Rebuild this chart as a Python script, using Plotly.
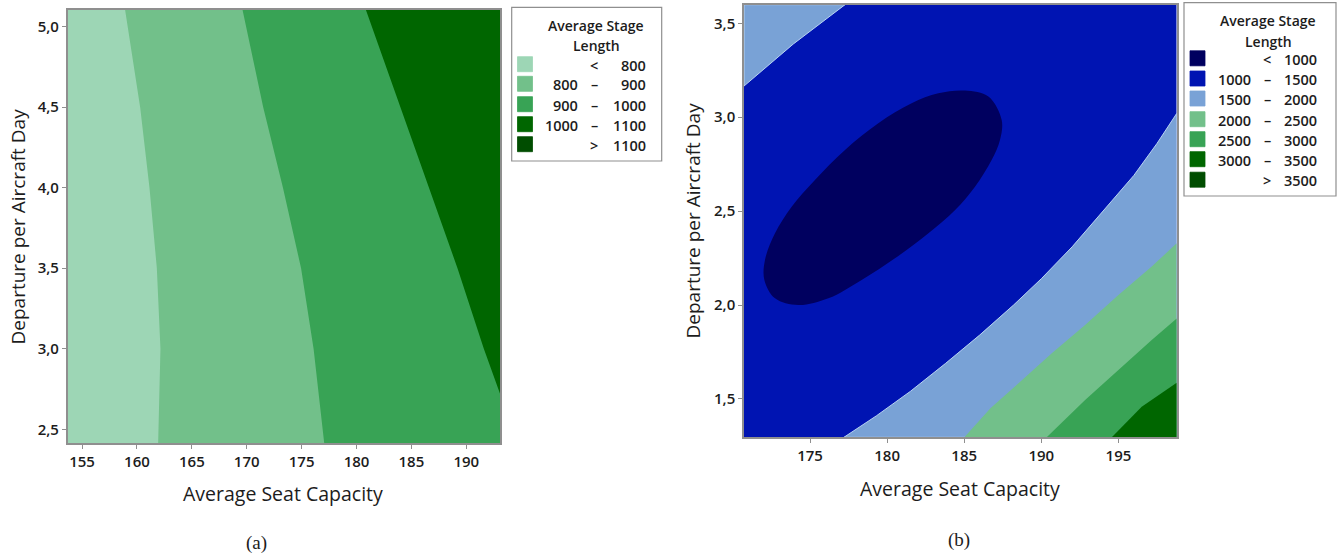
import plotly.graph_objects as go

W, H = 1338, 558

# ---------------- data ----------------
# Panel (a): Average Seat Capacity vs Departure per Aircraft Day
A_XRANGE = [153.69, 193.1]
A_YRANGE = [2.413, 5.103]
A_XTICKS = [155, 160, 165, 170, 175, 180, 185, 190]
A_XTICKTEXT = ["155", "160", "165", "170", "175", "180", "185", "190"]
A_YTICKS = [2.5, 3.0, 3.5, 4.0, 4.5, 5.0]
A_YTICKTEXT = ["2,5", "3,0", "3,5", "4,0", "4,5", "5,0"]

# contour boundaries (x at given y)
A_B800_X = [158.92, 160.29, 161.14, 161.81, 162.14, 161.99, 161.93]
A_B800_Y = [5.103, 4.5, 4.0, 3.5, 3.0, 2.5, 2.413]
A_B900_X = [169.62, 171.5, 173.3, 174.95, 176.09, 176.94, 177.06]
A_B900_Y = [5.103, 4.5, 4.0, 3.5, 3.0, 2.5, 2.413]
A_B1000_X = [180.86, 184.0, 186.6, 189.2, 191.6, 193.1]
A_B1000_Y = [5.103, 4.5, 4.0, 3.5, 3.0, 2.716]

A_LEVELS = ["<  800", "800 – 900", "900 – 1000", "1000 – 1100", ">  1100"]
A_COLORS = ["#9dd6b5", "#72c08a", "#38a355", "#006600", "#004d00"]

# Panel (b)
B_XRANGE = [170.72, 198.78]
B_YRANGE = [1.296, 3.599]
B_XTICKS = [175, 180, 185, 190, 195]
B_XTICKTEXT = ["175", "180", "185", "190", "195"]
B_YTICKS = [1.5, 2.0, 2.5, 3.0, 3.5]
B_YTICKTEXT = ["1,5", "2,0", "2,5", "3,0", "3,5"]

B_TL1500_X = [170.72, 173.92, 177.27]
B_TL1500_Y = [3.166, 3.39, 3.599]

B_E1000_X = [185.05, 186.57, 187.43, 187.32, 186.78, 185.70, 184.41, 182.68, 180.51, 178.35,
             176.19, 174.24, 172.73, 172.04, 172.08, 172.73, 173.81, 175.32, 177.27, 179.43,
             181.59, 183.32]
B_E1000_Y = [3.142, 3.110, 2.985, 2.879, 2.772, 2.630, 2.506, 2.382, 2.249, 2.134,
             2.036, 2.000, 2.036, 2.134, 2.240, 2.382, 2.524, 2.666, 2.826, 2.968,
             3.074, 3.127]

B_B1500_X = [198.78, 197.5, 196.0, 194.0, 192.0, 190.0, 188.2, 186.0, 183.8, 181.5, 179.3, 177.2]
B_B1500_Y = [3.02, 2.86, 2.69, 2.50, 2.31, 2.14, 2.00, 1.84, 1.69, 1.54, 1.41, 1.296]
B_B2000_X = [198.78, 197.16, 195.00, 192.84, 190.68, 188.51, 186.70, 185.01]
B_B2000_Y = [2.329, 2.205, 2.054, 1.894, 1.743, 1.583, 1.450, 1.296]
B_B2500_X = [198.78, 197.16, 195.00, 192.84, 190.35]
B_B2500_Y = [1.929, 1.814, 1.654, 1.495, 1.296]
B_B3000_X = [198.78, 196.51, 194.57]
B_B3000_Y = [1.587, 1.459, 1.296]

B_LEVELS = ["<  1000", "1000 – 1500", "1500 – 2000", "2000 – 2500", "2500 – 3000", "3000 – 3500", ">  3500"]
B_COLORS = ["#00005f", "#0014b2", "#79a2d6", "#72c08a", "#38a355", "#006600", "#004d00"]

LEGEND_TITLE = ["Average Stage", "Length"]
X_TITLE = "Average Seat Capacity"
Y_TITLE = "Departure per Aircraft Day"
CAPTIONS = ["(a)", "(b)"]

FONT = "Open Sans"

# ---------------- helpers ----------------
def px(x):
    return x / W


def py(y):
    return 1 - y / H


fig = go.Figure()


def poly(xs, ys, color, xa, ya, shape="linear", lcolor=None):
    fig.add_trace(go.Scatter(
        x=list(xs) + [xs[0]], y=list(ys) + [ys[0]], mode="lines", fill="toself",
        fillcolor=color,
        line=dict(width=1 if lcolor else 0, color=lcolor or color, shape=shape, smoothing=1.0),
        xaxis=xa, yaxis=ya, hoverinfo="skip", showlegend=False))


# panel (a)
ax0, ax1 = A_XRANGE
ay0, ay1 = A_YRANGE
poly([ax0, ax1, ax1, ax0], [ay0, ay0, ay1, ay1], A_COLORS[0], "x", "y")
poly(A_B800_X + [ax1, ax1], A_B800_Y + [ay0, ay1], A_COLORS[1], "x", "y")
poly(A_B900_X + [ax1, ax1], A_B900_Y + [ay0, ay1], A_COLORS[2], "x", "y")
poly(A_B1000_X + [ax1], A_B1000_Y + [ay1], A_COLORS[3], "x", "y")

# panel (b)
bx0, bx1 = B_XRANGE
by0, by1 = B_YRANGE
poly([bx0, bx1, bx1, bx0], [by0, by0, by1, by1], B_COLORS[1], "x2", "y2")
poly(B_TL1500_X + [bx0], B_TL1500_Y + [by1], B_COLORS[2], "x2", "y2", lcolor="#b8d3f2")
poly(B_E1000_X, B_E1000_Y, B_COLORS[0], "x2", "y2", shape="spline")
poly(B_B1500_X + [bx1], B_B1500_Y + [by0], B_COLORS[2], "x2", "y2", lcolor="#b8d3f2")
poly(B_B2000_X + [bx1], B_B2000_Y + [by0], B_COLORS[3], "x2", "y2")
poly(B_B2500_X + [bx1], B_B2500_Y + [by0], B_COLORS[4], "x2", "y2")
poly(B_B3000_X + [bx1], B_B3000_Y + [by0], B_COLORS[5], "x2", "y2")

axis_common = dict(
    showline=True, mirror=True, linecolor="#8f8f8f", linewidth=1.5,
    ticks="outside", ticklen=4, tickcolor="#8f8f8f", tickwidth=1,
    showgrid=False, zeroline=False, fixedrange=True,
    tickfont=dict(family=FONT, size=15, color="#1c1c1c", weight=600),
)

fig.update_layout(
    width=W, height=H,
    margin=dict(l=0, r=0, t=0, b=0),
    paper_bgcolor="white", plot_bgcolor="white",
    showlegend=False,
    xaxis=dict(domain=[px(67.7), px(500.3)], range=A_XRANGE, anchor="y",
               tickvals=A_XTICKS, ticktext=A_XTICKTEXT, **axis_common),
    yaxis=dict(domain=[py(443.3), py(10)], range=A_YRANGE, anchor="x",
               tickvals=A_YTICKS, ticktext=A_YTICKTEXT, **axis_common),
    xaxis2=dict(domain=[px(744), px(1176.7)], range=B_XRANGE, anchor="y2",
                tickvals=B_XTICKS, ticktext=B_XTICKTEXT, **axis_common),
    yaxis2=dict(domain=[py(437.3), py(4.7)], range=B_YRANGE, anchor="x2",
                tickvals=B_YTICKS, ticktext=B_YTICKTEXT, **axis_common),
)

ann = []
shapes = []


def text(x, y, s, size=14.5, anchor="center", weight=400, family=FONT, angle=0, color="#1c1c1c"):
    ann.append(dict(x=px(x), y=py(y), xref="paper", yref="paper", text=s, showarrow=False,
                    xanchor=anchor, yanchor="middle", textangle=angle,
                    font=dict(family=family, size=size, color=color, weight=weight)))


# axis titles
text(283, 493, X_TITLE, size=19.5)
text(960, 488, X_TITLE, size=19.5)
text(17.5, 227, Y_TITLE, size=19)
ann[-1]["textangle"] = -90
text(692.5, 221, Y_TITLE, size=19)
ann[-1]["textangle"] = -90

# captions
text(256.5, 543, CAPTIONS[0], size=19, family="Liberation Serif")
text(959, 540, CAPTIONS[1], size=19, family="Liberation Serif")


def legend(box, title_x, title_ys, sq_x, rows_y, labels, colors, lnum_r, dash_c, rnum_r):
    x0, y0, x1, y1 = box
    shapes.append(dict(type="rect", xref="paper", yref="paper", x0=px(x0), x1=px(x1),
                       y0=py(y1), y1=py(y0), line=dict(color="#8f8f8f", width=1.2),
                       fillcolor="white", layer="above"))
    text(title_x, title_ys[0], LEGEND_TITLE[0], size=14, weight=600)
    text(title_x, title_ys[1], LEGEND_TITLE[1], size=14, weight=600)
    for lab, col, ry in zip(labels, colors, rows_y):
        shapes.append(dict(type="rect", xref="paper", yref="paper",
                           x0=px(sq_x), x1=px(sq_x + 15), y0=py(ry + 7.5), y1=py(ry - 7.5),
                           line=dict(color=col, width=0.8), fillcolor=col, layer="above"))
        if "–" in lab:
            lo, hi = [t.strip() for t in lab.split("–")]
            text(lnum_r, ry + 1, lo, anchor="right", weight=600)
            text(dash_c, ry + 1, "–", anchor="center", weight=600)
            text(rnum_r, ry + 1, hi, anchor="right", weight=600)
        else:
            sym, val = lab.split()
            text(dash_c, ry + 1, sym, anchor="center", weight=600)
            text(rnum_r, ry + 1, val, anchor="right", weight=600)


legend((511.7, 7.3, 661.7, 161), 596, (25, 45), 517.5,
       [64.2, 83.8, 104.2, 124.2, 144.2], A_LEVELS, A_COLORS, 580, 594, 647.5)
legend((1184, 2.7, 1336, 196), 1268, (20.7, 41.7), 1190,
       [58.3, 78.5, 98.5, 119.2, 139.2, 159.2, 179.7], B_LEVELS, B_COLORS, 1252.5, 1267, 1318.5)

fig.update_layout(annotations=ann, shapes=shapes)

fig.write_html("out.html")
